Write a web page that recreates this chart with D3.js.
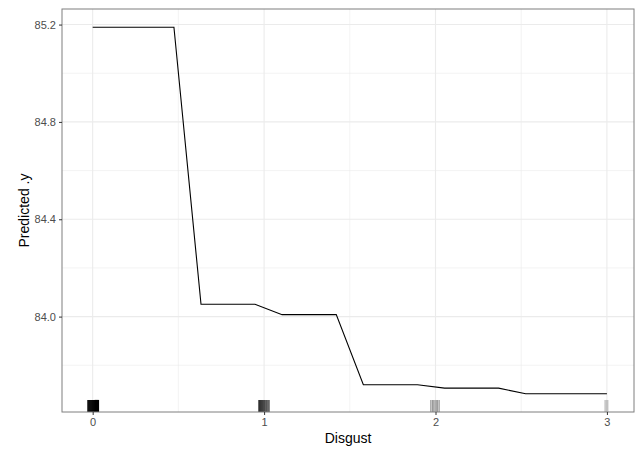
<!DOCTYPE html>
<html>
<head>
<meta charset="utf-8">
<script src="https://cdn.jsdelivr.net/npm/d3@7"></script>
<style>
  body { margin: 0; background: #fff; }
  text { font-family: "Liberation Sans", Arial, sans-serif; }
</style>
</head>
<body>
<script>
// partial dependence grid (20 points over 0..3) and predicted values
var gridX = [0, 0.158, 0.316, 0.474, 0.632, 0.789, 0.947, 1.105, 1.263, 1.421,
             1.579, 1.737, 1.895, 2.053, 2.211, 2.368, 2.526, 2.684, 2.842, 3.0];
var predY = [85.189, 85.189, 85.189, 85.189, 84.051, 84.051, 84.051, 84.008, 84.008, 84.008,
             83.720, 83.720, 83.720, 83.706, 83.706, 83.706, 83.683, 83.683, 83.683, 83.683];

// jittered rug positions and how many observations overlap at each
var rugX = [-0.027, -0.021, -0.015, -0.009, -0.003, 0.003, 0.009, 0.015, 0.021, 0.027, 0.033,
            0.970, 0.976, 0.982, 0.988, 0.994, 1.000, 1.006, 1.012, 1.018, 1.024, 1.030,
            1.973, 1.985, 1.997, 2.009, 2.021,
            2.989, 2.997, 3.005];
var rugN = [30, 30, 30, 30, 30, 30, 30, 30, 30, 30, 30,
            6, 7, 5, 6, 4, 5, 3, 4, 3, 3, 3,
            2, 3, 2, 3, 2,
            1, 1, 1];

var xTicks = [0, 1, 2, 3];
var xMinor = [0.5, 1.5, 2.5];
var yTicks = [84.0, 84.4, 84.8, 85.2];
var yMinor = [83.8, 84.2, 84.6, 85.0];

var W = 644, H = 461;
var margin = {top: 9, right: 10, bottom: 49, left: 62};
var width = W - margin.left - margin.right,
    height = H - margin.top - margin.bottom;

var svg = d3.select("body").append("svg")
    .attr("width", W)
    .attr("height", H);

var g = svg.append("g")
    .attr("transform", "translate(" + margin.left + "," + margin.top + ")");

var x = d3.scaleLinear().domain([-0.179, 3.158]).range([0, width]);
var y = d3.scaleLinear().domain([83.608, 85.264]).range([height, 0]);

// grid
g.selectAll(".minx").data(xMinor).enter().append("line")
    .attr("x1", x).attr("x2", x).attr("y1", 0).attr("y2", height)
    .attr("stroke", "#ebebeb").attr("stroke-width", 0.6);
g.selectAll(".miny").data(yMinor).enter().append("line")
    .attr("y1", y).attr("y2", y).attr("x1", 0).attr("x2", width)
    .attr("stroke", "#ebebeb").attr("stroke-width", 0.6);
g.selectAll(".majx").data(xTicks).enter().append("line")
    .attr("x1", x).attr("x2", x).attr("y1", 0).attr("y2", height)
    .attr("stroke", "#ebebeb").attr("stroke-width", 1.1);
g.selectAll(".majy").data(yTicks).enter().append("line")
    .attr("y1", y).attr("y2", y).attr("x1", 0).attr("x2", width)
    .attr("stroke", "#ebebeb").attr("stroke-width", 1.1);

// rug
var rugLen = height * 0.03;
g.selectAll(".rug").data(rugX).enter().append("line")
    .attr("x1", x).attr("x2", x)
    .attr("y1", height).attr("y2", height - rugLen)
    .attr("stroke", "#000")
    .attr("stroke-width", 1.5)
    .attr("stroke-opacity", function (d, i) { return 1 - Math.pow(0.8, rugN[i]); });

// pdp line
var line = d3.line()
    .x(function (d, i) { return x(gridX[i]); })
    .y(function (d) { return y(d); });

g.append("path")
    .datum(predY)
    .attr("d", line)
    .attr("fill", "none")
    .attr("stroke", "#000")
    .attr("stroke-width", 1.1);

// panel border
g.append("rect")
    .attr("width", width).attr("height", height)
    .attr("fill", "none").attr("stroke", "#7f7f7f").attr("stroke-width", 1);

// axes
var xAxis = g.append("g")
    .attr("transform", "translate(0," + height + ")")
    .call(d3.axisBottom(x).tickValues(xTicks).tickSize(3).tickPadding(3).tickFormat(d3.format("d")));
var yAxis = g.append("g")
    .call(d3.axisLeft(y).tickValues(yTicks).tickSize(3).tickPadding(3).tickFormat(d3.format(".1f")));

[xAxis, yAxis].forEach(function (a) {
    a.select(".domain").remove();
    a.selectAll(".tick line").attr("stroke", "#333");
    a.selectAll(".tick text")
        .attr("fill", "#4d4d4d")
        .style("font-size", "11px")
        .style("font-family", "'Liberation Sans', Arial, sans-serif");
});

// titles
svg.append("text")
    .attr("x", margin.left + width / 2)
    .attr("y", 443)
    .attr("text-anchor", "middle")
    .style("font-size", "14px")
    .text("Disgust");

svg.append("text")
    .attr("transform", "translate(29," + (margin.top + height / 2) + ") rotate(-90)")
    .attr("text-anchor", "middle")
    .style("font-size", "14px")
    .text("Predicted .y");
</script>
</body>
</html>
